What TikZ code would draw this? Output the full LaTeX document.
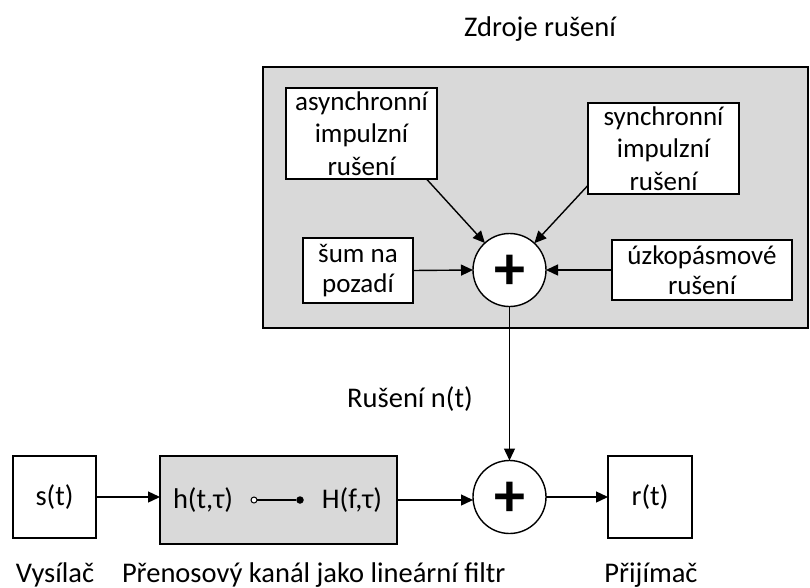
\documentclass[tikz,border=0pt]{standalone}
\usepackage{fontspec}
\setmainfont{Carlito}
\usetikzlibrary{arrows.meta}
\definecolor{boxgray}{HTML}{D9D9D9}
\begin{document}
\begin{tikzpicture}[x=1pt,y=-1pt,
  font=\fontsize{28.5}{34}\selectfont,
  every node/.style={inner sep=0pt, outer sep=0pt},
  blk/.style={draw=black, line width=1.4pt, fill=white, align=center},
  small/.style={font=\fontsize{27}{32.5}\selectfont},
  smalltwo/.style={font=\fontsize{27}{30}\selectfont},
  sumnode/.style={draw=black, line width=1.4pt, fill=white, circle, minimum size=73pt},
  plustxt/.style={font=\fontsize{62}{62}\selectfont\bfseries},
  arr/.style={draw=black, line width=1.4pt, -{Triangle[length=12pt,width=11pt]}},
  lbl/.style={anchor=base}]
\useasboundingbox (0,0) rectangle (810,588);
% noise sources group
\node[draw=black, line width=1.4pt, fill=boxgray, minimum width=545pt, minimum height=261pt] (bg) at (535.5,197.5) {};
\node[lbl] (zdroje) at (540,37) {Zdroje rušení};
\node[blk, small, minimum width=151pt, minimum height=91pt] (async) at (361.5,133.5) {asynchronní\\impulzní\\rušení};
\node[blk, small, minimum width=151pt, minimum height=91pt] (sync) at (663.5,148.5) {synchronní\\impulzní\\rušení};
\node[blk, smalltwo, minimum width=110pt, minimum height=65pt] (sum) at (358,270.5) {šum na\\pozadí};
\node[blk, smalltwo, minimum width=180pt, minimum height=60pt] (uzko) at (702,270) {úzkopásmové\\rušení};
\node[sumnode] (add1) at (509.5,270) {};
\node[plustxt] (p1) at (509.5,272) {+};
\draw[arr] (async.-35) -- (add1);
\draw[arr] (sync.206) -- (add1);
\draw[arr] (sum.east) -- (add1.west);
\draw[arr] (uzko.west) -- (add1.east);
% main chain
\node[lbl] (rus) at (410,407) {Rušení n(t)};
\node[blk, minimum width=83pt, minimum height=82pt] (s) at (54.5,497) {s(t)};
\node[blk, fill=boxgray, minimum width=237pt, minimum height=88pt] (chan) at (278.5,500) {};
\node (h) at (203,500) {h(t,τ)};
\node (H) at (352,500) {H(f,τ)};
\node[draw=black, line width=1pt, fill=white, circle, minimum size=6pt] (oc) at (254,500) {};
\node[fill=black, circle, minimum size=7.5pt] (fd) at (300,500) {};
\draw[line width=1.4pt] (oc.east) -- (fd.west);
\node[sumnode] (add2) at (509.5,497) {};
\node[plustxt] (p2) at (509.5,499) {+};
\node[blk, minimum width=84pt, minimum height=82pt] (r) at (650,497) {r(t)};
\draw[arr] (add1.south) -- (add2.north);
\draw[arr] (s.east) -- (s.east -| chan.west);
\draw[arr] (chan.east) -- (chan.east -| add2.west);
\draw[arr] (add2.east) -- (r.west);
\node[lbl] (vys) at (55,582) {Vysílač};
\node[lbl, anchor=base west] (kan) at (122,582) {Přenosový kanál jako lineární filtr};
\node[lbl] (pri) at (651,582) {Přijímač};
\end{tikzpicture}
\end{document}
